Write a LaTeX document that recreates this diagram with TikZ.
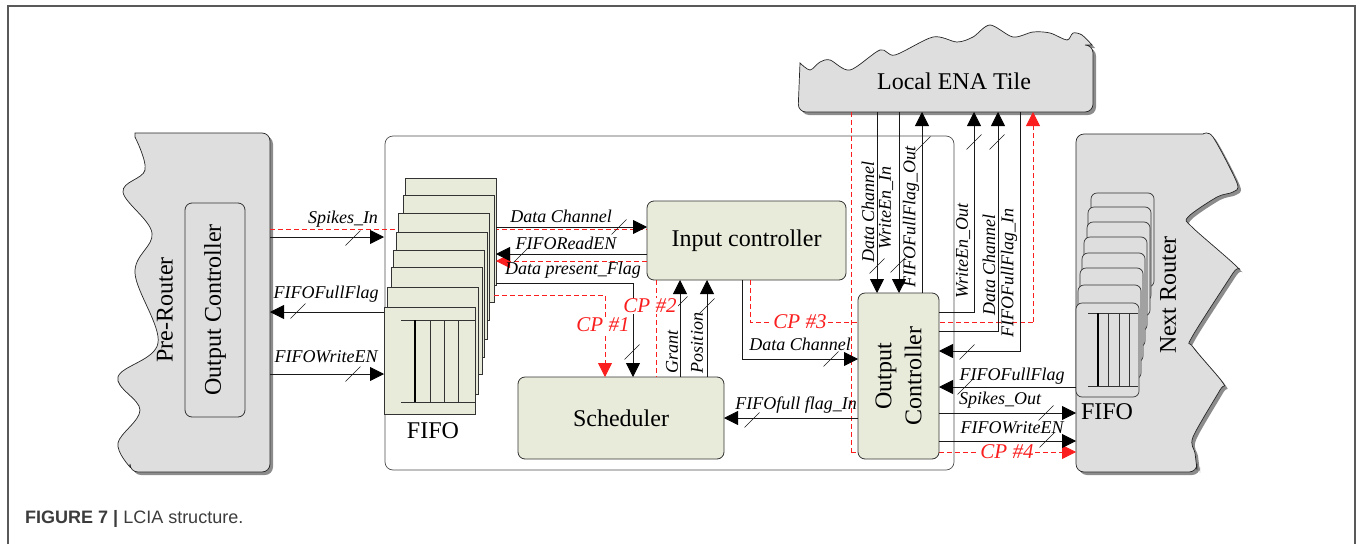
\documentclass[tikz,border=0pt]{standalone}
\usepackage{fontspec}
\setmainfont{Liberation Serif}
\newfontfamily\capfont{Liberation Sans}
\usetikzlibrary{calc,arrows.meta,positioning}
\definecolor{unitfill}{RGB}{232,234,218}
\definecolor{routerfill}{RGB}{222,222,222}
\definecolor{shadowgray}{RGB}{140,140,140}
\definecolor{cpred}{RGB}{250,30,30}
\definecolor{capgray}{RGB}{60,60,60}
\tikzstyle{unit}=[draw=black!80,fill=unitfill,rounded corners=7pt,line width=0.8pt,inner sep=0pt,outer sep=0pt]
\tikzstyle{fifo}=[draw=black!80,fill=unitfill,line width=0.7pt,anchor=north west,minimum width=91,minimum height=107,inner sep=0pt,outer sep=0pt]
\tikzstyle{nrfifo}=[draw=black!80,fill=routerfill,rounded corners=6pt,line width=0.7pt,anchor=north west,minimum width=63,minimum height=94,inner sep=0pt,outer sep=0pt]
\tikzstyle{router}=[draw=black!85,line width=0.7pt,fill=routerfill,preaction={fill=shadowgray,transform canvas={shift={(3pt,-3pt)}}}]
\tikzstyle{big}=[font=\fontsize{24}{30}\selectfont,inner sep=0pt]
\tikzstyle{sig}=[draw=black!90,line width=0.8pt,-{Triangle[length=14pt,width=14pt,fill=black,color=black]}]
\tikzstyle{cp}=[draw=cpred,line width=0.8pt,dash pattern=on 5pt off 3pt]
\tikzstyle{cptip}=[-{Triangle[length=14pt,width=14pt,fill=cpred,sep=0pt]}]
\tikzstyle{lbl}=[font=\fontsize{18}{20}\selectfont\itshape,inner sep=0pt]
\tikzstyle{cplbl}=[font=\fontsize{21}{24}\selectfont\itshape,text=cpred,fill=white,inner sep=1pt]
\tikzstyle{bus}=[draw=black!90,line width=0.6pt]
\newcommand{\busmark}[1]{\draw[bus] ($(#1)+(-7.5,7.5)$) -- ($(#1)+(7.5,-7.5)$);}

\begin{document}
\begin{tikzpicture}[x=1pt,y=-1pt]
\useasboundingbox (0,0) rectangle (1358,544);

% frame
\draw[black!65,line width=1.3pt] (8,544) -- (8,6) -- (1355,6) -- (1355,544);

% routers and tile
\draw[router] [rounded corners=8pt] (135,133) -- (270,133) -- (270,472) -- (130,472) [sharp corners]
   -- plot[smooth,tension=.6] coordinates {(130,467) (118,443) (140,410) (118,377) (158,343) (135,273) (152,233) (123,192) (145,170) (135,137)} -- cycle;
\node[inner sep=0pt,outer sep=0pt,minimum width=152,minimum height=339] (pre) at (194,302.5) {};
\node[unit,fill=routerfill,minimum width=60,minimum height=214] (poc) at (215,310) {};
\node[big,rotate=90] at (poc.center) {Output Controller};
\node[big,rotate=90] (pretxt) at (165,310) {Pre-Router};

\draw[router] [rounded corners=8pt] (800,63) -- (798,112) -- (1093,112) -- (1093,45) [sharp corners]
   -- plot[smooth,tension=.5] coordinates {(1092,45) (1082,35) (1073,33) (1067,40) (1050,33) (1033,32) (1013,37) (990,25) (973,37) (957,42) (933,37) (895,55) (880,50) (850,70) (830,60) (820,62) (810,70) (800,63)} -- cycle;
\node[inner sep=0pt,outer sep=0pt,minimum width=295,minimum height=64] (ena) at (945.5,80) {};
\node[big] (enatxt) at (954,81) {Local ENA Tile};

\draw[router] [rounded corners=8pt] (1200,134) -- (1076,134) -- (1076,472) -- (1197,472) [sharp corners]
   -- plot[smooth,tension=.5] coordinates {(1197,470) (1195,453) (1193,437) (1220,390) (1223,383) (1193,347) (1192,337) (1233,273) (1237,267) (1192,227) (1188,217) (1217,197) (1233,192) (1237,183) (1213,137) (1203,134)} -- cycle;
\node[inner sep=0pt,outer sep=0pt,minimum width=161,minimum height=338] (nr) at (1156.5,303) {};
\node[big,rotate=90] (nrtxt) at (1168,295) {Next Router};

\foreach \fx/\fy [count=\i] in {1091/193,1088/207,1087/222,1084/237,1082/253,1080/268,1078/285,1076/303} {
    \node[nrfifo] (g\i) at (\fx,\fy) {};
}
\draw[black!80,line width=0.6pt] (1088,313) -- (1138,313) (1088,386) -- (1138,386);
\foreach \vx in {1108,1119,1129} { \draw[black!80,line width=0.6pt] (\vx,313) -- (\vx,386); }
\draw[black,line width=2.5pt] (1098,313) -- (1098,386);
\node[big] (nrfifotxt) at (1107,412) {FIFO};

% LCIA block
\node[draw=black!70,line width=0.7pt,rounded corners=8pt,minimum width=569,minimum height=334,inner sep=0pt,outer sep=0pt] (lcia) at (669.5,303) {};
\node[unit,minimum width=199,minimum height=79,font=\fontsize{24}{30}\selectfont] (ic) at (746.5,240.5) {Input controller};
\node[unit,minimum width=206,minimum height=82,font=\fontsize{24}{30}\selectfont] (sch) at (621,418) {Scheduler};

\draw[cp] (pre.east |- 0,229) -- (ic.west |- 0,229);
\foreach \fx/\fy [count=\i] in {405/178,403/195,398/213,396/232,393/250,391/267,387/287,384/307} {
    \node[fifo] (f\i) at (\fx,\fy) {};
}
\draw[black!80,line width=0.6pt] (401,320) -- (475,320) (401,402) -- (475,402);
\foreach \vx in {430,444,458} { \draw[black!80,line width=0.6pt] (\vx,320) -- (\vx,402); }
\draw[black,line width=2.5pt] (415,320) -- (415,402);
\node[big] (fifotxt) at (433,431) {FIFO};

% check points
\coordinate (cp3) at (1033,322);
\coordinate (cp4) at (851,452);
\draw[cp] (ic.south -| 750,0) |- (cp3);
\draw[cp,cptip] (cp3) -- (ena.south -| cp3);
\draw[cp] (ena.south -| cp4) -- (cp4);
\draw[cp,cptip] (cp4) -- (nr.west |- cp4);
\draw[cp] (ic.south -| 656,0) -- (sch.north -| 656,0);
\draw[cp,cptip] (f2.east |- 0,295) -| (sch.north -| 605,0);
\draw[cp,cptip] (ic.west |- 0,261) -- (f1.east |- 0,261);

\node[unit,minimum width=81,minimum height=166] (oc) at (898.5,376) {};
\node[big,rotate=90,align=center] at (oc.center) {Output\\Controller};

% pre-router links
\draw[sig] (pre.east |- 0,237) -- (f8.west |- 0,237);
\draw[sig] (f8.west |- 0,312) -- (pre.east |- 0,312);
\draw[sig] (pre.east |- 0,374) -- (f8.west |- 0,374);
\node[lbl] at (343,219) {Spikes\_In};
\node[lbl] at (326,294) {FIFOFullFlag};
\node[lbl] at (326,357) {FIFOWriteEN};
\busmark{353,238} \busmark{298,311} \busmark{353,374}

% fifo / input controller / scheduler
\draw[sig] (f1.east |- 0,227) -- (ic.west |- 0,227);
\draw[sig] (ic.west |- 0,254) -- (f1.east |- 0,254);
\draw[sig] (f1.east |- 0,283) -| (sch.north -| 633,0);
\draw[sig] (sch.north -| 680,0) -- (ic.south -| 680,0);
\draw[sig] (sch.north -| 707,0) -- (ic.south -| 707,0);
\node[lbl] at (561,216) {Data Channel};
\node[lbl] at (566,243) {FIFOReadEN};
\node[lbl] at (573,270) {Data present\_Flag};
\node[lbl,rotate=90] at (672,352) {Grant};
\node[lbl,rotate=90] at (697,343) {Position};
\busmark{619,227} \busmark{521,255} \busmark{632,352} \busmark{680,304} \busmark{707,306}

% output controller links
\draw[sig] (ic.south -| 742,0) |- (oc.west |- 0,359);
\draw[sig] (oc.west |- 0,418) -- (sch.east |- 0,418);
\draw[sig] (ena.south -| 877,0) -- (oc.north -| 877,0);
\draw[sig] (ena.south -| 899,0) -- (oc.north -| 899,0);
\draw[sig] (oc.north -| 922,0) -- (ena.south -| 922,0);
\draw[sig] (oc.east |- 0,312) -| (ena.south -| 974,0);
\draw[sig] (oc.east |- 0,331) -| (ena.south -| 998,0);
\draw[sig] (ena.south -| 1020,0) |- (oc.east |- 0,351);
\draw[sig] (nr.west |- 0,387) -- (oc.east |- 0,387);
\draw[sig] (oc.east |- 0,413) -- (nr.west |- 0,413);
\draw[sig] (oc.east |- 0,441) -- (nr.west |- 0,441);
\node[lbl] at (800,344) {Data Channel};
\node[lbl] at (796,405) {FIFOfull flag\_In};
\node[lbl,rotate=90] at (868,212) {Data Channel};
\node[lbl,rotate=90] at (886,208) {WriteEn\_In};
\node[lbl,rotate=90] at (911,217) {FIFOFullFlag\_Out};
\node[lbl,rotate=90] at (963,251) {WriteEn\_Out};
\node[lbl,rotate=90] at (989,265) {Data Channel};
\node[lbl,rotate=90] at (1009,273) {FIFOFullFlag\_In};
\node[lbl] at (1012,376) {FIFOFullFlag};
\node[lbl] at (1000,400) {Spikes\_Out};
\node[lbl] at (1012,428) {FIFOWriteEN};
\busmark{831,359} \busmark{752,420} \busmark{877,266} \busmark{898,265} \busmark{923,144}
\busmark{974,142} \busmark{997,142} \busmark{967,352} \busmark{965,387} \busmark{1046,413} \busmark{1047,440}

% check point labels
\node[cplbl] at (603,325) {CP \#1};
\node[cplbl] at (650,306) {CP \#2};
\node[cplbl] at (800,322) {CP \#3};
\node[cplbl] at (1007,452) {CP \#4};

% caption
\node[anchor=base west,inner sep=0pt,text=capgray,font=\capfont\fontsize{18}{21}\selectfont] (cap) at (25,523) {\textbf{FIGURE 7 |} LCIA structure.};
\end{tikzpicture}
\end{document}
